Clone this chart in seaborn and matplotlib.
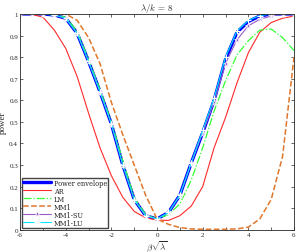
import matplotlib
matplotlib.use("Agg")
import matplotlib.pyplot as plt
import seaborn as sns
import numpy as np

# beta*sqrt(lambda) grid
x = [-6, -5.5, -5, -4.5, -4, -3.5, -3, -2.5, -2, -1.5, -1, -0.5, 0,
     0.5, 1, 1.5, 2, 2.5, 3, 3.5, 4, 4.5, 5, 5.5, 6]

envelope = [1, 1, 1, 0.995, 0.98, 0.91, 0.78, 0.64, 0.49, 0.30, 0.14, 0.065, 0.05,
            0.08, 0.16, 0.31, 0.45, 0.60, 0.79, 0.915, 0.965, 0.99, 1, 1, 1]
ar = [1, 0.998, 0.985, 0.925, 0.84, 0.71, 0.54, 0.38, 0.25, 0.15, 0.085, 0.055, 0.045,
      0.043, 0.065, 0.11, 0.20, 0.38, 0.52, 0.68, 0.82, 0.915, 0.96, 0.98, 0.99]
lm = [1, 1, 1, 0.995, 0.985, 0.92, 0.79, 0.65, 0.50, 0.32, 0.15, 0.07, 0.05,
      0.07, 0.12, 0.23, 0.38, 0.55, 0.69, 0.81, 0.876, 0.925, 0.93, 0.89, 0.83]
mm1 = [1, 1, 1, 1, 1, 0.97, 0.89, 0.77, 0.59, 0.44, 0.30, 0.16, 0.05,
       0.025, 0.01, 0.004, 0.002, 0.002, 0.002, 0.004, 0.012, 0.05, 0.14, 0.34, 0.80]
mm1_su = [1, 1, 1, 0.995, 0.98, 0.91, 0.78, 0.64, 0.49, 0.30, 0.14, 0.065, 0.05,
          0.08, 0.16, 0.31, 0.45, 0.59, 0.77, 0.88, 0.945, 0.975, 0.99, 1, 1]
mm1_lu = [1, 1, 1, 0.995, 0.98, 0.91, 0.78, 0.64, 0.49, 0.30, 0.14, 0.065, 0.05,
          0.08, 0.16, 0.31, 0.46, 0.61, 0.80, 0.92, 0.97, 0.992, 1, 1, 1]

sns.set_style("ticks")
plt.rcParams['font.family'] = ['Liberation Serif', 'DejaVu Serif']
plt.rcParams['mathtext.fontset'] = 'cm'
plt.rcParams['xtick.direction'] = 'in'
plt.rcParams['ytick.direction'] = 'in'

fig = plt.figure(figsize=(3.0, 2.53), dpi=100)
ax = fig.add_axes([0.067, 0.088, 0.913, 0.853])

sns.lineplot(x=x, y=envelope, ax=ax, color='#0000ff', linewidth=2.4, label='Power envelope')
sns.lineplot(x=x, y=ar, ax=ax, color='#ff2a2a', linewidth=0.8, label='AR')
sns.lineplot(x=x, y=lm, ax=ax, color='#33ff33', linewidth=0.9, linestyle='-.', label='LM')
sns.lineplot(x=x, y=mm1, ax=ax, color='#e0772c', linewidth=1.1, linestyle='--', label='MM1')
sns.lineplot(x=x, y=mm1_su, ax=ax, color='#9a5bc6', linewidth=0.8, marker='*',
             markersize=4.5, markeredgewidth=0.5, label='MM1-SU')
sns.lineplot(x=x, y=mm1_lu, ax=ax, color='#00e6ff', linewidth=0.8, marker='+',
             markersize=4.5, markeredgewidth=0.8, label='MM1-LU')

ax.set_xlim(-6, 6)
ax.set_ylim(0, 1)
ax.set_xticks(np.arange(-6, 7, 1))
ax.set_xticklabels([str(v) if v % 2 == 0 else '' for v in range(-6, 7)])
ax.set_yticks(np.arange(0, 1.01, 0.1))
ax.set_yticklabels(['0'] + ['%.1f' % v for v in np.arange(0.1, 0.95, 0.1)] + ['1'])
ax.tick_params(labelsize=5, length=2.5, width=0.5, top=True, right=True, pad=1.5)
for s in ax.spines.values():
    s.set_linewidth(0.6)

ax.set_title(r'$\lambda/k\,=\,8$', fontsize=6.5, pad=3)
ax.set_xlabel(r'$\beta\sqrt{\lambda}$', fontsize=6.5, va='bottom')
ax.xaxis.set_label_coords(0.5, -0.11)
ax.set_ylabel('power', fontsize=6.5)
ax.yaxis.set_label_coords(-0.048, 0.5)

ax.legend(loc='lower left', prop={'family': 'DejaVu Serif', 'size': 4.8}, frameon=True,
          fancybox=False, edgecolor='#444444', handlelength=4.2, labelspacing=0.0,
          borderpad=0.15, borderaxespad=0.3, handletextpad=0.4, framealpha=1)

fig.savefig('out.png', dpi=100)
